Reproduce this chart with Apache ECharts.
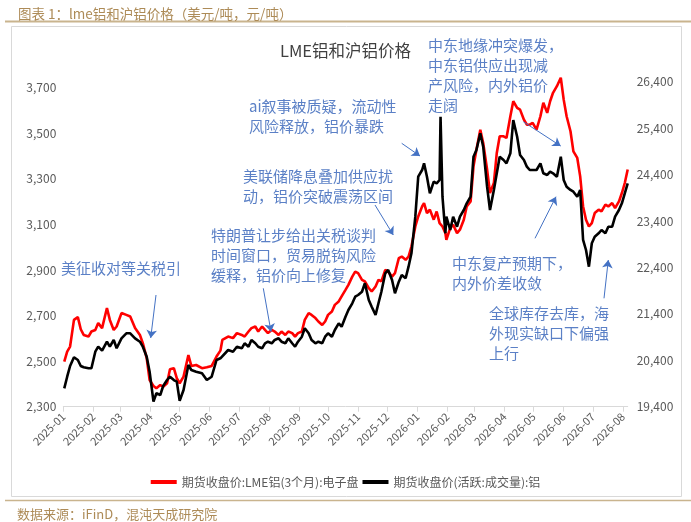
<!DOCTYPE html>
<html>
<head>
<meta charset="utf-8">
<script src="https://cdn.jsdelivr.net/npm/echarts@6/dist/echarts.min.js"></script>
<style>
  html, body { margin: 0; padding: 0; background: #fff; }
  #main { width: 691px; height: 522px; }
</style>
</head>
<body>
<div id="main"></div>
<script>
// ---------------- 数据（从图上读出，约每3-5天一个点） ----------------
const dates = [
  '2025-01-02','2025-01-05','2025-01-08','2025-01-12','2025-01-16','2025-01-19','2025-01-22','2025-01-27','2025-01-30',
  '2025-02-03','2025-02-06','2025-02-10','2025-02-15','2025-02-18','2025-02-22','2025-02-25',
  '2025-03-02','2025-03-07','2025-03-11','2025-03-16','2025-03-21','2025-03-24','2025-03-28','2025-03-31',
  '2025-04-04','2025-04-07','2025-04-11','2025-04-14','2025-04-18','2025-04-21','2025-04-25','2025-04-28',
  '2025-05-01','2025-05-05','2025-05-10','2025-05-13','2025-05-18','2025-05-24','2025-05-29',
  '2025-06-03','2025-06-08','2025-06-12','2025-06-14','2025-06-20','2025-06-25','2025-06-29',
  '2025-07-04','2025-07-07','2025-07-11','2025-07-14','2025-07-18','2025-07-21','2025-07-25','2025-07-28','2025-07-31',
  '2025-08-04','2025-08-07','2025-08-11','2025-08-14','2025-08-18','2025-08-21','2025-08-25','2025-08-28','2025-08-31',
  '2025-09-04','2025-09-07','2025-09-11','2025-09-14','2025-09-18','2025-09-21','2025-09-25','2025-09-28',
  '2025-10-01','2025-10-05','2025-10-08','2025-10-12','2025-10-15','2025-10-19','2025-10-22','2025-10-26','2025-10-29',
  '2025-11-01','2025-11-05','2025-11-08','2025-11-12','2025-11-15','2025-11-19','2025-11-22','2025-11-25','2025-11-29',
  '2025-12-02','2025-12-06','2025-12-09','2025-12-13','2025-12-16','2025-12-20','2025-12-23','2025-12-26','2025-12-30',
  '2026-01-02','2026-01-06','2026-01-08','2026-01-11','2026-01-14','2026-01-18','2026-01-21','2026-01-24','2026-01-25','2026-01-27','2026-01-30','2026-01-31',
  '2026-02-04','2026-02-07','2026-02-11','2026-02-14','2026-02-18','2026-02-21','2026-02-25','2026-02-28',
  '2026-03-03','2026-03-07','2026-03-10','2026-03-14','2026-03-17','2026-03-21','2026-03-24','2026-03-27','2026-03-31',
  '2026-04-03','2026-04-07','2026-04-10','2026-04-14','2026-04-17','2026-04-21','2026-04-24','2026-04-27','2026-04-30',
  '2026-05-04','2026-05-08','2026-05-11','2026-05-15','2026-05-18','2026-05-21','2026-05-25','2026-05-29',
  '2026-06-01','2026-06-04','2026-06-08','2026-06-11','2026-06-15','2026-06-18','2026-06-21','2026-06-24','2026-06-27','2026-06-30',
  '2026-07-03','2026-07-07','2026-07-10','2026-07-14','2026-07-17','2026-07-21','2026-07-24','2026-07-28','2026-07-31',
  '2026-08-03','2026-08-06'
];

// 期货收盘价:LME铝(3个月):电子盘  美元/吨（左轴）
const lmeAl = [
  2498,2542,2564,2681,2693,2640,2615,2608,2630,
  2637,2667,2645,2733,2681,2637,2652,
  2711,2703,2696,2645,2615,2579,2513,2417,
  2391,2381,2395,2388,2403,2464,2469,2425,
  2403,2432,2527,2479,2483,2469,2473,
  2479,2520,2546,2593,2608,2601,2623,
  2615,2608,2630,2645,2652,2630,2652,2637,2623,
  2637,2630,2615,2630,2615,2630,2623,2608,2623,
  2630,2681,2711,2703,2689,2674,2659,2674,
  2703,2718,2747,2762,2784,2813,2835,2871,2893,
  2886,2857,2850,2820,2806,2828,2857,2850,2901,
  2893,2871,2886,2952,2959,2945,2959,3003,3091,
  3135,3179,3194,3150,3165,3121,3157,3106,3113,3091,3062,3033,
  3084,3099,3062,3077,3121,3179,3201,3355,
  3428,3516,3458,3341,3238,3282,3414,3487,3487,
  3480,3575,3641,3612,3604,3560,3538,3538,3546,
  3516,3575,3634,3590,3641,3678,3707,3744,
  3648,3575,3509,3421,3392,3311,3179,3121,3091,3106,
  3150,3165,3157,3187,3179,3194,3172,3201,3238,
  3282,3341
];

// 期货收盘价(活跃:成交量):铝  元/吨（右轴）
const shfeAl = [
  19796,20046,20277,20464,20406,20277,20249,20227,20227,
  20585,20692,20606,20800,20692,20837,20658,
  20873,20981,20981,20873,20800,20692,20477,20154,
  19508,19689,19652,19846,19975,20046,19975,19939,
  19529,19760,20298,20190,20154,20119,19975,
  20046,20406,20443,20477,20621,20585,20692,
  20658,20766,20692,20837,20766,20692,20658,20766,20800,
  20766,20837,20873,20800,20766,20873,20766,20692,20800,
  20908,21089,20981,20837,20766,20800,20766,20908,
  20981,20908,21052,21196,21123,21339,21483,21627,21769,
  21806,21877,22058,21698,21554,21377,21627,21877,22273,
  22345,22129,21843,22093,22237,22166,22416,22704,23493,
  24354,24498,24643,24354,23997,24247,24212,24283,25647,23923,23135,23493,
  23206,23493,23277,23493,23637,23781,23923,24785,
  24929,25289,25000,24139,23637,24068,24427,24785,24714,
  24643,24858,25575,25216,24822,24714,24570,24498,24498,
  24498,24643,24427,24391,24462,24427,24354,24785,
  24283,24139,24068,24031,23923,24068,22991,22775,22416,22920,
  23062,23135,23206,23135,23277,23277,23493,23637,23781,
  23997,24212
];

const seriesNames = ['期货收盘价:LME铝(3个月):电子盘', '期货收盘价(活跃:成交量):铝'];

// 注释文字
const notes = [
  { text: '美征收对等关税引', x: 61, y: 258 },
  { text: '特朗普让步给出关税谈判\n时间窗口，贸易脱钩风险\n缓释，铝价向上修复', x: 211, y: 225 },
  { text: '美联储降息叠加供应扰\n动，铝价突破震荡区间', x: 243, y: 166 },
  { text: 'ai叙事被质疑，流动性\n风险释放，铝价暴跌', x: 249, y: 96 },
  { text: '中东地缘冲突爆发，\n中东铝供应出现减\n产风险，内外铝价\n走阔', x: 428, y: 35 },
  { text: '中东复产预期下，\n内外价差收敛', x: 452, y: 253 },
  { text: '全球库存去库，海\n外现实缺口下偏强\n上行', x: 489, y: 303 }
];
// 箭头（像素坐标，起点 -> 终点）
const arrows = [
  [[156, 295], [150.7, 338]],
  [[263.3, 288.3], [271, 331.7]],
  [[375, 205], [393.3, 235]],
  [[401.7, 143.3], [420, 156]],
  [[523.3, 121.7], [560.7, 146]],
  [[535, 238.3], [556, 196.7]],
  [[604, 298.3], [608.3, 260]]
];

const cjk = '"Noto Sans CJK SC", "Noto Sans", sans-serif';
const noteColor = '#5B80C6';
const tan = '#AD8B57';

function fmtNum(v) {
  return Math.round(v).toLocaleString('en-US');
}

function priceChart() {
  let myChart = echarts.init(document.querySelector('#main'));
  let option = {
    animation: false,
    backgroundColor: '#fff',
    textStyle: { fontFamily: cjk },
    title: [
      {
        text: '图表 1：lme铝和沪铝价格（美元/吨，元/吨）',
        left: 13, top: 2,
        textStyle: { color: tan, fontSize: 13.5, fontWeight: 'normal', fontFamily: cjk }
      },
      {
        text: 'LME铝和沪铝价格',
        left: 'center', top: 37,
        textStyle: { color: '#404040', fontSize: 16.5, fontWeight: 'normal', fontFamily: cjk }
      },
      {
        text: '数据来源：iFinD，混沌天成研究院',
        left: 12, top: 503,
        textStyle: { color: tan, fontSize: 13, fontWeight: 'normal', fontFamily: cjk }
      }
    ],
    legend: {
      data: seriesNames,
      left: 'center',
      top: 471,
      icon: 'rect',
      itemWidth: 26,
      itemHeight: 4,
      itemGap: 4,
      textStyle: { color: '#595959', fontSize: 12, fontFamily: cjk }
    },
    grid: { left: 63.3, right: 63.3, top: 65, bottom: 115.3 },
    xAxis: {
      type: 'time',
      min: '2025-01-01',
      max: '2026-08-06',
      splitNumber: 20,
      axisLine: { lineStyle: { color: '#D9D9D9' } },
      axisTick: { show: true, length: 5, lineStyle: { color: '#D9D9D9' } },
      splitLine: { show: false },
      axisLabel: {
        rotate: 45,
        color: '#595959',
        fontSize: 11,
        margin: 8,
        formatter: function (v) {
          let d = new Date(v);
          let m = d.getMonth() + 1;
          return d.getFullYear() + '-' + (m < 10 ? '0' + m : m);
        }
      }
    },
    yAxis: [
      {
        type: 'value',
        min: 2300, max: 3800, interval: 200,
        axisLine: { show: false },
        axisTick: { show: false },
        splitLine: { show: false },
        axisLabel: {
          color: '#595959', fontSize: 12, margin: 7, showMaxLabel: false,
          formatter: function (v) { return (v - 2300) % 200 === 0 && v <= 3700 ? fmtNum(v) : ''; }
        }
      },
      {
        type: 'value',
        min: 19400, max: 26760, interval: 1000,
        axisLine: { show: false },
        axisTick: { show: false },
        splitLine: { show: false },
        axisLabel: {
          color: '#595959', fontSize: 12, margin: 9, showMaxLabel: false,
          formatter: function (v) { return (v - 19400) % 1000 === 0 && v <= 26400 ? fmtNum(v) : ''; }
        }
      }
    ],
    series: [
      {
        name: seriesNames[0],
        type: 'line',
        yAxisIndex: 0,
        showSymbol: false,
        color: '#FF0000',
        lineStyle: { width: 2.6, color: '#FF0000' },
        data: dates.map((d, i) => [d, lmeAl[i]])
      },
      {
        name: seriesNames[1],
        type: 'line',
        yAxisIndex: 1,
        showSymbol: false,
        color: '#000000',
        lineStyle: { width: 2.6, color: '#000000' },
        data: dates.map((d, i) => [d, shfeAl[i]]),
        markLine: {
          silent: true,
          symbol: ['none', 'arrow'],
          symbolSize: 8,
          label: { show: false },
          lineStyle: { color: '#4472C4', width: 1, type: 'solid' },
          data: arrows.map(a => [{ x: a[0][0], y: a[0][1] }, { x: a[1][0], y: a[1][1] }])
        }
      }
    ],
    graphic: [
      // 顶部和底部的棕色分隔线
      { type: 'line', shape: { x1: 5, y1: 21.5, x2: 691, y2: 21.5 }, style: { stroke: '#C9B48E', lineWidth: 2 } },
      { type: 'line', shape: { x1: 5, y1: 500.5, x2: 691, y2: 500.5 }, style: { stroke: '#C9B48E', lineWidth: 1.5 } },
      // 图表外框
      { type: 'rect', shape: { x: 11.5, y: 26.5, width: 670, height: 470 }, style: { fill: 'none', stroke: '#D9D9D9', lineWidth: 1 }, z: -1 }
    ].concat(notes.map(n => ({
      type: 'text',
      x: n.x, y: n.y,
      style: {
        text: n.text,
        fill: noteColor,
        font: '15px ' + cjk,
        lineHeight: 20,
        verticalAlign: 'top'
      }
    })))
  };
  myChart.setOption(option);
}

priceChart();
</script>
</body>
</html>
